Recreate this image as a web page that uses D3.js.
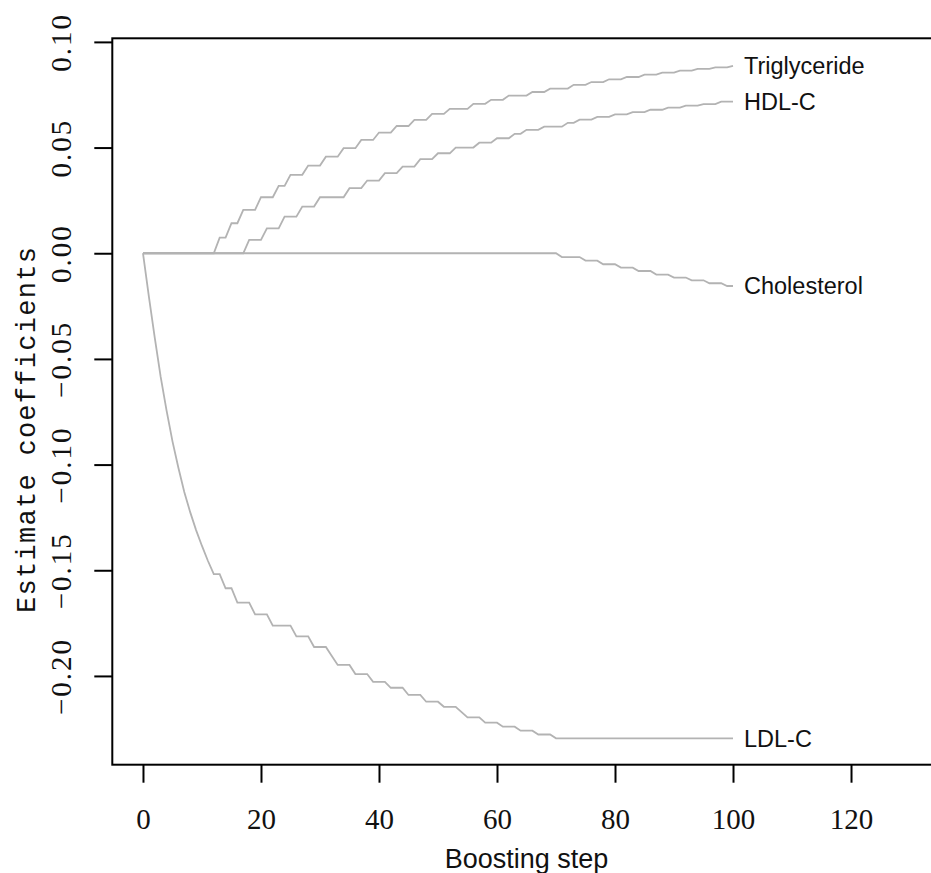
<!DOCTYPE html>
<html>
<head>
<meta charset="utf-8">
<script src="https://cdn.jsdelivr.net/npm/d3@7"></script>
<style>
  body { margin: 0; background: #fff; }
  svg { display: block; }
</style>
</head>
<body>
<div id="chart"></div>
<script>
// Boosting steps 0..100
const steps = d3.range(0, 101);

// Coefficient paths, one value per boosting step
const triglyceride = [
  0, 0, 0, 0, 0, 0, 0, 0, 0, 0,
  0, 0, 0, .0074, .0074, .0142, .0142, .0205, .0205, .0205,
  .0265, .0265, .0265, .0319, .0319, .0371, .0371, .0371, .0415, .0415,
  .0415, .0457, .0457, .0457, .0497, .0497, .0497, .0536, .0536, .0536,
  .0571, .0571, .0571, .0602, .0602, .0602, .0631, .0631, .0631, .0659,
  .0659, .0659, .0683, .0683, .0683, .0683, .0707, .0707, .0707, .0726,
  .0726, .0726, .0746, .0746, .0746, .0746, .0763, .0763, .0763, .0779,
  .0779, .0779, .0779, .0797, .0797, .0797, .0810, .0810, .0810, .0823,
  .0823, .0823, .0834, .0834, .0834, .0845, .0845, .0845, .0855, .0855,
  .0855, .0864, .0864, .0864, .0872, .0872, .0872, .0879, .0879, .0879,
  .0886
];

const hdl = [
  0, 0, 0, 0, 0, 0, 0, 0, 0, 0,
  0, 0, 0, 0, 0, 0, 0, 0, .0063, .0063,
  .0063, .0118, .0118, .0118, .0173, .0173, .0173, .0221, .0221, .0221,
  .0265, .0265, .0265, .0265, .0265, .0308, .0308, .0308, .0344, .0344,
  .0344, .0379, .0379, .0379, .0410, .0410, .0410, .0445, .0445, .0445,
  .0473, .0473, .0473, .0500, .0500, .0500, .0500, .0523, .0523, .0523,
  .0544, .0544, .0544, .0565, .0565, .0584, .0584, .0584, .0599, .0599,
  .0599, .0599, .0617, .0617, .0632, .0632, .0632, .0645, .0645, .0645,
  .0657, .0657, .0657, .0668, .0668, .0668, .0679, .0679, .0679, .0689,
  .0689, .0689, .0698, .0698, .0698, .0706, .0706, .0706, .0717, .0717,
  .0717
];

const cholesterol = [
  0, 0, 0, 0, 0, 0, 0, 0, 0, 0,
  0, 0, 0, 0, 0, 0, 0, 0, 0, 0,
  0, 0, 0, 0, 0, 0, 0, 0, 0, 0,
  0, 0, 0, 0, 0, 0, 0, 0, 0, 0,
  0, 0, 0, 0, 0, 0, 0, 0, 0, 0,
  0, 0, 0, 0, 0, 0, 0, 0, 0, 0,
  0, 0, 0, 0, 0, 0, 0, 0, 0, 0,
  0, -.0018, -.0018, -.0018, -.0018, -.0035, -.0035, -.0035, -.0052, -.0052,
  -.0052, -.0068, -.0068, -.0068, -.0084, -.0084, -.0084, -.0101, -.0101, -.0101,
  -.0115, -.0115, -.0115, -.0128, -.0128, -.0128, -.0142, -.0142, -.0142, -.0155,
  -.0155
];

const ldl = [
  0, -.0205, -.0400, -.0585, -.0745, -.0890, -.1015, -.1130, -.1225, -.1310,
  -.1385, -.1455, -.1518, -.1518, -.1585, -.1585, -.1653, -.1653, -.1653, -.1709,
  -.1709, -.1709, -.1762, -.1762, -.1762, -.1762, -.1813, -.1813, -.1813, -.1863,
  -.1863, -.1863, -.1906, -.1948, -.1948, -.1948, -.1991, -.1991, -.1991, -.2028,
  -.2028, -.2028, -.2056, -.2056, -.2056, -.2090, -.2090, -.2090, -.2122, -.2122,
  -.2122, -.2146, -.2146, -.2146, -.2171, -.2196, -.2196, -.2196, -.2221, -.2221,
  -.2221, -.2240, -.2240, -.2240, -.2259, -.2259, -.2259, -.2277, -.2277, -.2277,
  -.2295, -.2295, -.2295, -.2295, -.2295, -.2295, -.2295, -.2295, -.2295, -.2295,
  -.2295, -.2295, -.2295, -.2295, -.2295, -.2295, -.2295, -.2295, -.2295, -.2295,
  -.2295, -.2295, -.2295, -.2295, -.2295, -.2295, -.2295, -.2295, -.2295, -.2295,
  -.2295
];

const seriesNames = ["Triglyceride", "HDL-C", "Cholesterol", "LDL-C"];
const seriesValues = [triglyceride, hdl, cholesterol, ldl];

const xTicks = [0, 20, 40, 60, 80, 100, 120];
const yTicks = [0.10, 0.05, 0.00, -0.05, -0.10, -0.15, -0.20];

const W = 931, H = 873;

const svg = d3.select("#chart")
    .append("svg")
    .attr("width", W)
    .attr("height", H);

// R-style extended limits (xlim 0..130, 4% padding)
const xScale = d3.scaleLinear()
    .domain([-5.2, 135.2])
    .range([112.3, 940.7]);

const yScale = d3.scaleLinear()
    .domain([-0.2420, 0.1017])
    .range([764.7, 38.3]);

// Lines
const line = d3.line()
    .x((d, i) => xScale(steps[i]))
    .y(d => yScale(d));

svg.selectAll(".path")
    .data(seriesValues)
    .enter()
    .append("path")
    .attr("class", "path")
    .attr("d", d => line(d))
    .attr("fill", "none")
    .attr("stroke", "#b3b3b3")
    .attr("stroke-width", 1.8);

// Series labels at the end of each path
svg.selectAll(".label")
    .data(seriesNames)
    .enter()
    .append("text")
    .attr("class", "label")
    .attr("x", xScale(100) + 11)
    .attr("y", (d, i) => yScale(seriesValues[i][100]))
    .attr("dy", "0.36em")
    .style("font-family", "Liberation Sans, Arial, sans-serif")
    .style("font-size", "23.5px")
    .style("fill", "#111")
    .text(d => d);

// Box
svg.append("rect")
    .attr("x", xScale.range()[0])
    .attr("y", yScale.range()[1])
    .attr("width", xScale.range()[1] - xScale.range()[0])
    .attr("height", yScale.range()[0] - yScale.range()[1])
    .attr("fill", "none")
    .attr("stroke", "#000")
    .attr("stroke-width", 2);

// X axis
const xAxis = svg.append("g")
    .attr("class", "x-axis")
    .attr("transform", `translate(0, ${yScale.range()[0]})`)
    .call(d3.axisBottom(xScale).tickValues(xTicks).tickSize(18).tickPadding(0).tickFormat(d3.format("d")));

xAxis.select(".domain").remove();
xAxis.selectAll("line").attr("stroke", "#000").attr("stroke-width", 2);
xAxis.selectAll("text")
    .attr("y", 64)
    .attr("dy", 0)
    .style("font-family", "Liberation Serif, Times New Roman, serif")
    .style("font-size", "29px")
    .style("fill", "#111");

// Y axis
const yAxis = svg.append("g")
    .attr("class", "y-axis")
    .attr("transform", `translate(${xScale.range()[0]}, 0)`)
    .call(d3.axisLeft(yScale).tickValues(yTicks).tickSize(18).tickFormat(d3.format(".2f")));

yAxis.select(".domain").remove();
yAxis.selectAll("line").attr("stroke", "#000").attr("stroke-width", 2);
yAxis.selectAll("text")
    .attr("x", 0)
    .attr("dy", 0)
    .attr("text-anchor", "middle")
    .attr("transform", "translate(-41, 0) rotate(-90)")
    .style("font-family", "Liberation Serif, Times New Roman, serif")
    .style("font-size", "29px")
    .style("letter-spacing", "2px")
    .style("fill", "#111");

// Axis titles
svg.append("text")
    .attr("x", (xScale.range()[0] + xScale.range()[1]) / 2)
    .attr("y", 868)
    .attr("text-anchor", "middle")
    .style("font-family", "Liberation Sans, Arial, sans-serif")
    .style("font-size", "27px")
    .style("fill", "#111")
    .text("Boosting step");

svg.append("text")
    .attr("transform", "translate(35, 430) rotate(-90)")
    .attr("text-anchor", "middle")
    .attr("textLength", 366)
    .attr("lengthAdjust", "spacing")
    .style("font-family", "Liberation Mono, Courier New, monospace")
    .style("font-size", "27px")
    .style("fill", "#111")
    .text("Estimate coefficients");
</script>
</body>
</html>
